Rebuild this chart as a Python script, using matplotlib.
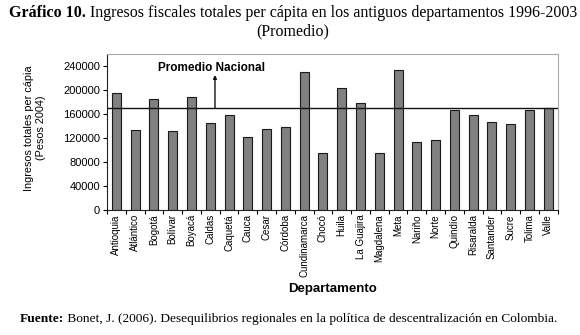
import matplotlib
matplotlib.use("Agg")
import matplotlib.pyplot as plt
import numpy as np

departamentos = ["Antioquia", "Atlántico", "Bogotá", "Bolívar", "Boyacá", "Caldas",
                 "Caquetá", "Cauca", "Cesar", "Córdoba", "Cundinamarca", "Chocó",
                 "Huila", "La Guajira", "Magdalena", "Meta", "Nariño", "Norte",
                 "Quindío", "Risaralda", "Santander", "Sucre", "Tolima", "Valle"]
ingresos = [195500, 133000, 185500, 132000, 188000, 145500,
            158000, 122000, 135500, 139000, 230500, 95500,
            204000, 179000, 94500, 234000, 113000, 116500,
            167500, 158500, 146500, 144000, 167500, 170000]
promedio_nacional = 170000
yticks = [0, 40000, 80000, 120000, 160000, 200000, 240000]

fig = plt.figure(figsize=(5.8, 3.35), dpi=100)
ax = fig.add_axes([107/580, 1-210/335, (557.7-107)/580, (210-54)/335])

x = np.arange(len(departamentos))
ax.bar(x, ingresos, width=0.48, color="#808080", edgecolor="#1a1a1a", linewidth=0.8, zorder=2)
ax.axhline(promedio_nacional, color="#111111", linewidth=1.0, zorder=3)

ax.set_xlim(-0.5, len(departamentos) - 0.5)
ax.set_ylim(0, 260000)
ax.set_yticks(yticks)
ax.set_yticklabels([str(v) for v in yticks], fontsize=8, family="Liberation Sans")
ax.set_xticks(x)
ax.set_xticklabels(departamentos, rotation=90, fontsize=7, family="Liberation Sans")
ax.tick_params(axis="x", length=0, pad=3)
ax.set_xticks(np.arange(-0.5, len(departamentos)), minor=True)
ax.tick_params(axis="x", which="minor", length=3, width=0.8, direction="out")
ax.tick_params(axis="y", length=3, width=0.8, direction="out", pad=2)

for s in ["top", "right"]:
    ax.spines[s].set_color("#aaaaaa")
    ax.spines[s].set_linewidth(0.8)
for s in ["left", "bottom"]:
    ax.spines[s].set_color("#222222")
    ax.spines[s].set_linewidth(0.8)

# Promedio Nacional annotation
ax.annotate("", xy=(5.25, 225000), xytext=(5.25, promedio_nacional),
            arrowprops=dict(arrowstyle="-|>", color="#111111", lw=1.0,
                            mutation_scale=5, shrinkA=0, shrinkB=0), zorder=4)
ax.text(5.05, 237000, "Promedio Nacional", fontsize=8.5, fontweight="bold",
        family="Liberation Sans", ha="center", va="center")

ax.set_xlabel("Departamento", fontsize=9.5, fontweight="bold", family="Liberation Sans")
ax.xaxis.set_label_coords(0.5, -0.47)

fig.text(35/580, 1-128/335, "Ingresos totales per cápia\n(Pesos 2004)", rotation=90,
         ha="center", va="center", multialignment="center", fontsize=7.8,
         family="Liberation Sans", linespacing=1.25)

# Title with bold prefix
fig.canvas.draw()
r = fig.canvas.get_renderer()
t1 = fig.text(0, 1-13/335, "Gráfico 10.", fontsize=10, fontweight="bold",
              family="Liberation Serif", ha="left", va="center")
t2 = fig.text(0, 1-13/335, " Ingresos fiscales totales per cápita en los antiguos departamentos 1996-2003",
              fontsize=10, family="Liberation Serif", ha="left", va="center")
total = t1.get_window_extent(r).width + t2.get_window_extent(r).width
fs = 10 * 568 / total
t1.set_fontsize(fs)
t2.set_fontsize(fs)
w1 = t1.get_window_extent(r).width
w2 = t2.get_window_extent(r).width
x0 = 293 - (w1 + w2) / 2
t1.set_x(x0/580)
t2.set_x((x0 + w1)/580)
fig.text(293/580, 1-31/335, "(Promedio)", fontsize=fs, family="Liberation Serif",
         ha="center", va="center")

# Footer
f1 = fig.text(20/580, 1-319/335, "Fuente:", fontsize=8.5, fontweight="bold",
              family="Liberation Serif", ha="left", va="center")
f2 = fig.text(0, 1-319/335,
              " Bonet, J. (2006). Desequilibrios regionales en la política de descentralización en Colombia.",
              fontsize=8.5, family="Liberation Serif", ha="left", va="center")
ftot = f1.get_window_extent(r).width + f2.get_window_extent(r).width
ffs = 8.5 * 537 / ftot
f1.set_fontsize(ffs)
f2.set_fontsize(ffs)
wf = f1.get_window_extent(r).width
f2.set_x((20 + wf)/580)

fig.savefig("out.png", dpi=100)
